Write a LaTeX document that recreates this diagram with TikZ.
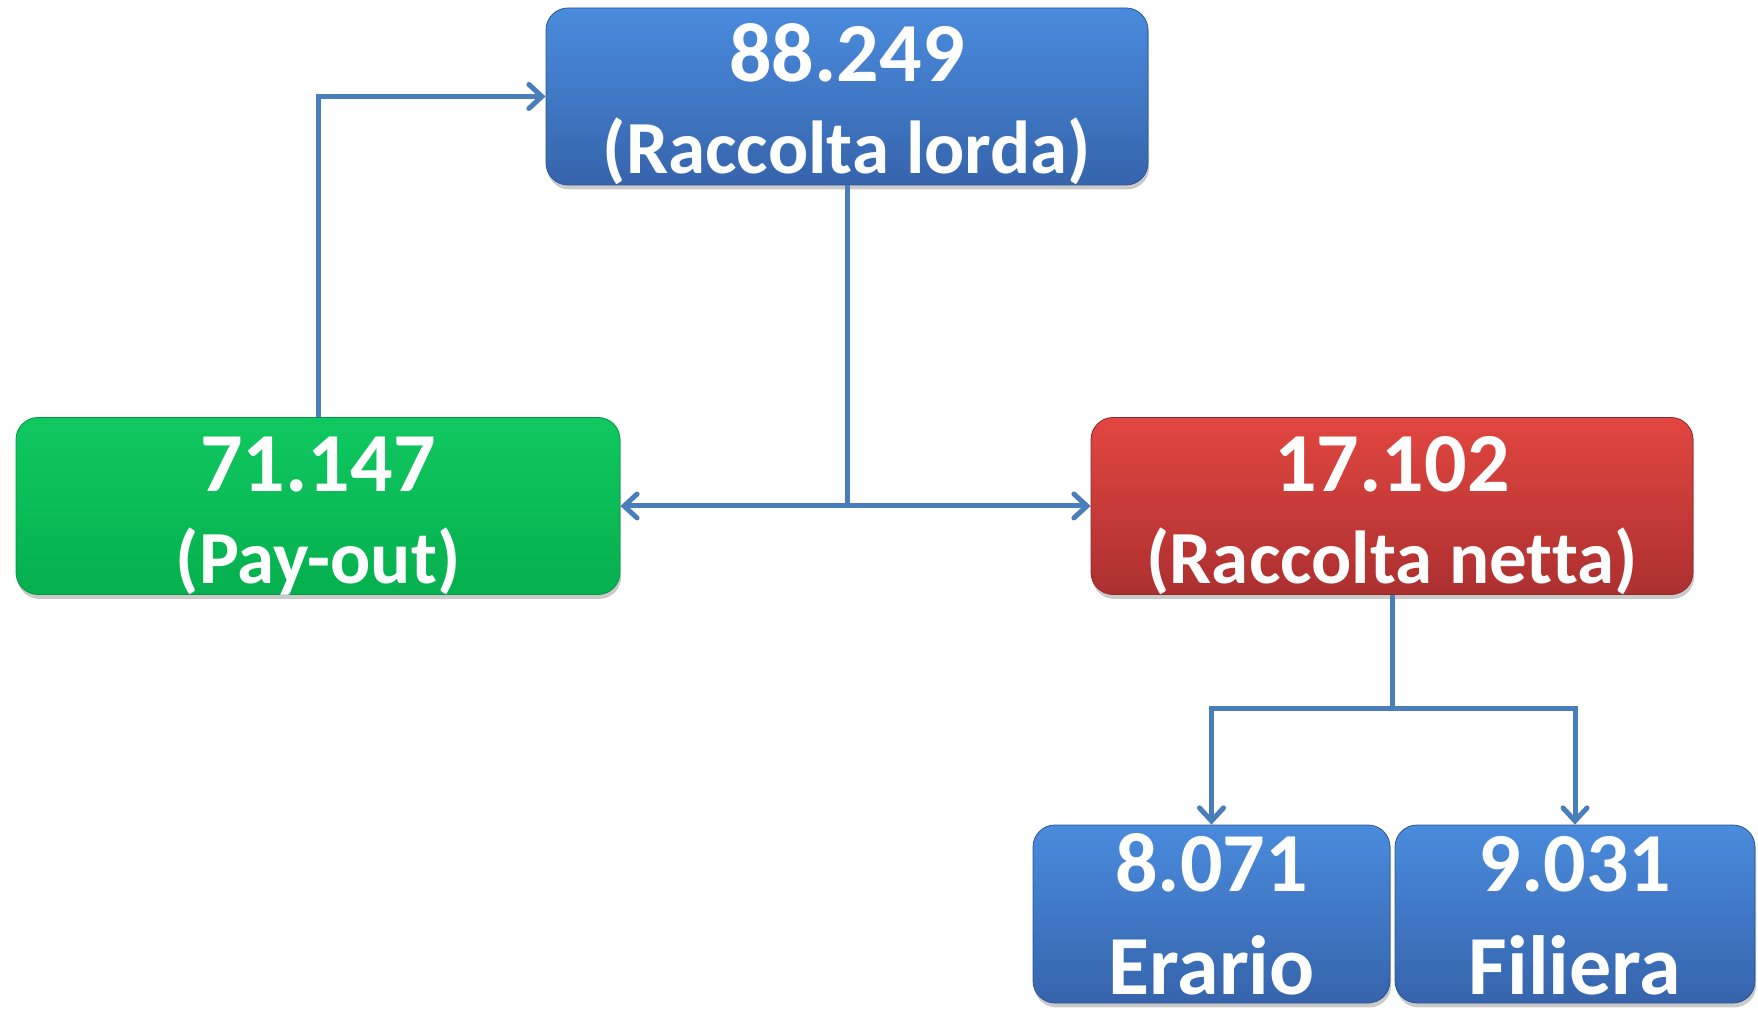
\documentclass[tikz,border=0pt]{standalone}
\usepackage{fontspec}
\newfontfamily\boxfont{Carlito}[Ligatures=NoCommon]
\usetikzlibrary{arrows.meta,shadows,calc}

\definecolor{blueTop}{RGB}{74,139,221}
\definecolor{blueBot}{RGB}{54,100,172}
\definecolor{greenTop}{RGB}{16,200,96}
\definecolor{greenBot}{RGB}{5,176,78}
\definecolor{redTop}{RGB}{226,70,64}
\definecolor{redBot}{RGB}{172,48,48}
\definecolor{linkBlue}{RGB}{74,126,187}

\tikzset{
  box/.style={rectangle, rounded corners=11pt, inner sep=0pt,
    drop shadow={shadow xshift=0.6pt, shadow yshift=-2.2pt, opacity=0.35, fill=black!60}},
  bluebox/.style={box, top color=blueTop, bottom color=blueBot, draw=blueBot!85!black, line width=0.4pt},
  greenbox/.style={box, top color=greenTop, bottom color=greenBot, draw=greenBot!85!black, line width=0.4pt},
  redbox/.style={box, top color=redTop, bottom color=redBot, draw=redBot!85!black, line width=0.4pt},
  bigtext/.style={anchor=base, inner sep=0pt, text=white, font=\boxfont\bfseries\fontsize{42}{45}\selectfont},
  smalltext/.style={anchor=base, inner sep=0pt, text=white, font=\boxfont\bfseries\fontsize{37.5}{40}\selectfont},
  link/.style={draw=linkBlue, line width=2.5pt},
  conn/.style={link, -{Straight Barb[length=6.5pt,width=12pt,line cap=round]}},
  biconn/.style={link, {Straight Barb[length=6.5pt,width=12pt,line cap=round]}-{Straight Barb[length=6.5pt,width=12pt,line cap=round]}}
}

\begin{document}
\begin{tikzpicture}[x=0.5pt,y=-0.5pt]
  \useasboundingbox (0,0) rectangle (1758,1010);

  % totals
  \node[bluebox, minimum width=301pt, minimum height=88.5pt] (lorda) at (847,96.5) {};
  \node[greenbox, minimum width=302pt, minimum height=88.5pt] (payout) at (318,506) {};
  \node[redbox, minimum width=301pt, minimum height=88.5pt] (netta) at (1392,506) {};

  \node[bigtext]   (lorda-val)  at ($(lorda.north)+(0,74)$)   {88.249};
  \node[smalltext] (lorda-lbl)  at ($(lorda.north)+(0,166)$)  {(Raccolta lorda)};
  \node[bigtext]   (payout-val) at ($(payout.north)+(0,74)$)  {71.147};
  \node[smalltext] (payout-lbl) at ($(payout.north)+(0,166)$) {(Pay-out)};
  \node[bigtext]   (netta-val)  at ($(netta.north)+(0,74)$)   {17.102};
  \node[smalltext] (netta-lbl)  at ($(netta.north)+(0,166)$)  {(Raccolta netta)};

  % split of the net amount
  \node[bluebox, minimum width=178.5pt, minimum height=89pt] (erario) at (1211.5,914) {};
  \node[bluebox, minimum width=180pt, minimum height=89pt] (filiera) at (1575,914) {};

  \node[bigtext] (erario-val)  at ($(erario.north)+(0,67)$)   {8.071};
  \node[bigtext] (erario-lbl)  at ($(erario.north)+(0,170)$)  {Erario};
  \node[bigtext] (filiera-val) at ($(filiera.north)+(0,67)$)  {9.031};
  \node[bigtext] (filiera-lbl) at ($(filiera.north)+(0,170)$) {Filiera};

  % pay-out flows back into the gross amount
  \draw[conn] (payout.north) |- (lorda.west);

  % gross amount splits into pay-out and net amount
  \coordinate (mid) at (lorda.south |- payout.east);
  \draw[link] (lorda.south) -- (mid);
  \draw[biconn] (payout.east) -- (netta.west);

  % net amount splits into tax and supply chain
  \coordinate (split) at ($(netta.south)+(0,114)$);
  \draw[link] (netta.south) -- (split);
  \draw[conn] (split) -| (erario.north);
  \draw[conn] (split) -| (filiera.north);
\end{tikzpicture}
\end{document}
